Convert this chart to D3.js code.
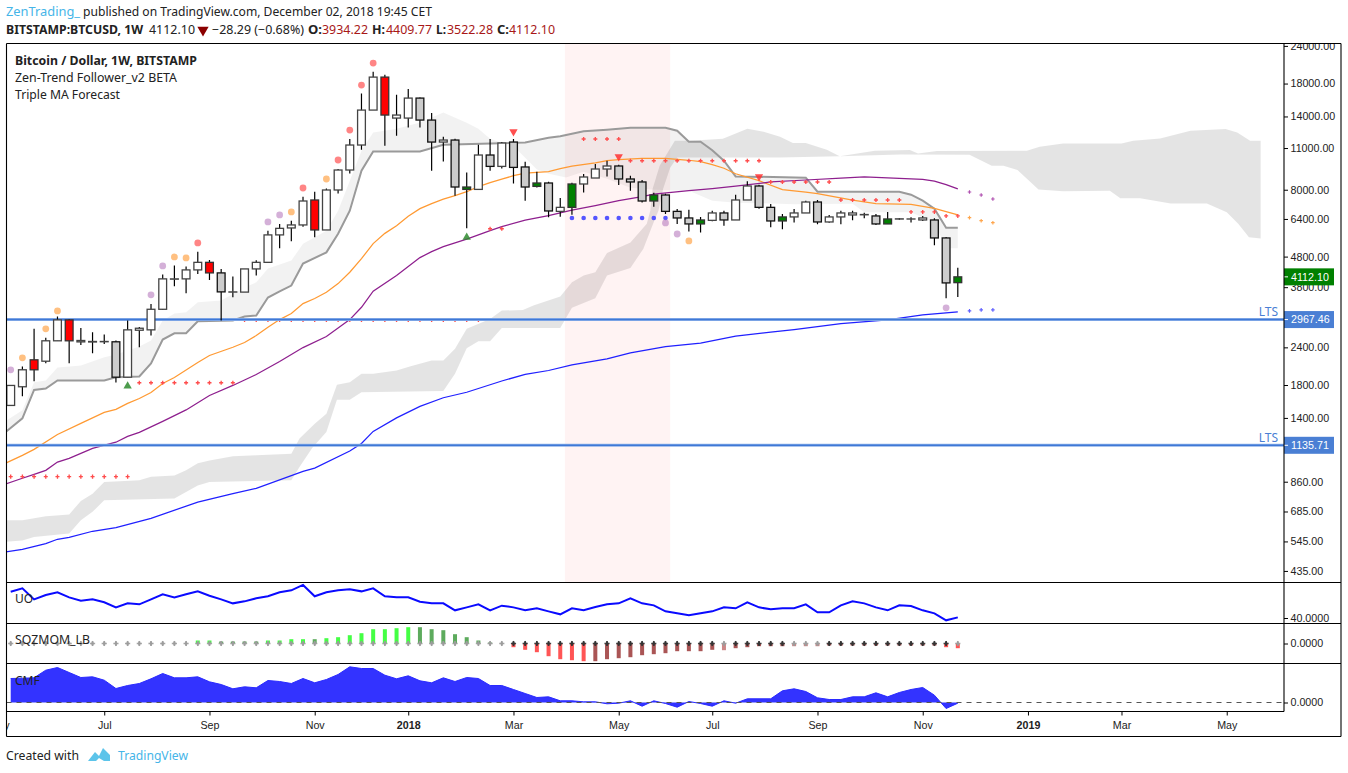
<!DOCTYPE html>
<html><head><meta charset="utf-8">
<script src="https://cdn.jsdelivr.net/npm/d3@7"></script>
<style>html,body{margin:0;padding:0;background:#fff}svg{display:block}
.ax text{font-family:"Liberation Sans",Arial,sans-serif;font-size:10.7px;fill:#222}
.ax line{stroke:#000;stroke-width:1}.ax path{display:none}
.ui{font-family:"Noto Sans",Tahoma,sans-serif;font-size:12px;fill:#222}
</style></head><body><svg id="c" width="1348" height="773"></svg>
<script>
// ---- weekly candles, week 0 = 8 May 2017 ----
const open=[1540,1776,2022,2159,2523,2960,2529,2510,2505,2504,1911,2735,2743,3210,4049,4049,4336,4594,4238,3666,3660,4369,4594,5665,5974,6113,7397,5883,7984,9300,11256,14700,18910,13829,13829,16110,13620,11515,11693,8020,8020,10429,9561,11515,9519,8207,8422,6780,6992,8358,8749,9372,9590,8684,8489,7340,7685,6781,6448,6160,6331,6699,6350,7397,8232,6992,6302,6499,6699,7284,6254,6499,6598,6620,6548,6160,6395,6400,6350,6350,5535,3934.22];
const high=[1794,2074,2764,2581,3036,2983,2784,2695,2647,2529,2945,2806,3345,4184,4481,4447,4986,4680,4369,4120,4369,4666,5852,6160,6316,7586,7880,8082,9372,11783,16683,19688,19246,16522,17257,16186,14366,11992,11810,9127,11281,11783,11515,11783,9907,9179,8506,7510,8441,9021,9737,9984,9685,8905,8617,7821,7762,6907,6870,6499,6818,6818,7702,8528,8313,7176,6648,6907,7357,7397,6598,6818,6818,6714,6648,6752,6448,6478,6548,6430,5579,4409.77];
const low=[1540,1653,1854,2126,2523,2126,2444,2296,2463,1835,1911,2401,2627,3195,3826,3626,4206,4018,2945,3518,3660,4152,4585,5114,5393,6034,5561,5883,7778,9061,10859,14700,11196,12083,12874,12874,9250,9930,7644,5956,8020,9250,9415,8397,7357,8142,6478,6513,6613,7836,8749,8858,8295,7941,7262,7029,6648,6160,5809,5773,6283,6080,6350,7397,6923,6002,5915,6234,6699,6141,6219,6141,6331,6430,6113,6160,6365,6234,6302,5233,3492,3522.28];
const close=[1794,2022,2182,2523,2960,2523,2502,2500,2510,1911,2743,2777,3210,4049,4040,4336,4594,4238,3666,3660,4369,4594,5665,5956,6113,7340,5883,7984,9300,11256,14700,18910,14152,14152,16110,13620,11515,11693,8168,8168,10429,9561,11429,9488,8168,8422,6802,6992,8358,8817,9372,9590,8684,8489,7340,7685,6781,6448,6160,6350,6699,6350,7397,8232,6992,6302,6499,6699,7284,6254,6499,6699,6699,6605,6160,6399,6405,6395,6448,5535,3926,4112.10];
const tone=("wwrwwrwwwg"+"wwwwwwwrgw"+"wwwwwwrwww"+"wwrwwggwgn"+"wgwggngwnw"+"wwgggngggn"+"wgwwggnwwg"+"wwwwgnwwwggn").split("");
const toneFill={w:"#fff",g:"#cccccc",r:"#ff0000",n:"#008000"};
const toneEdge={w:"#444",g:"#111",r:"#333",n:"#333"};

// ---- moving averages (week, price) ----
const orangeWeeks=[-1,1,2,4,6,8,9,10,11,12,13,14,16,17,19,20,21,22,23,24,25,26,27,28,29,30,31,32,33,34,35,36,37,38,39,40,41,42,43,44,46,47,48,50,51,52,54,56,58,59,60,61,62,64,66,68,69,72,74,77,79,81];
const orangePrice=[967,1052,1101,1234,1343,1460,1494,1564,1624,1700,1822,1907,2138,2255,2402,2490,2627,2798,2967,3106,3353,3484,3654,3906,4259,4727,5300,5732,6080,6530,6923,7192,7443,7644,7880,8188,8441,8670,8905,9078,9179,9394,9574,9830,9985,10061,10161,10161,10020,9907,9685,9429,9037,8571,8002,7850,7762,7385,7192,7150,6939,6598];
const purpleWeeks=[-1,1,2,3,4,5,6,7,9,10,11,13,15,17,19,21,23,25,27,29,30,31,33,35,36,37,39,41,42,44,46,48,50,52,54,55,58,60,62,65,68,71,73,76,78,79,80,81];
const purplePrice=[830,883,910,938,999,1028,1068,1109,1163,1216,1253,1363,1488,1662,1794,1951,2155,2396,2607,2967,3260,3684,4152,4763,4987,5180,5485,5852,6034,6340,6562,6844,7083,7357,7586,7733,7941,8064,8220,8489,8617,8749,8817,8727,8657,8540,8313,8047];
const blueWeeks=[-1,1,3,4,5,7,9,12,16,19,21,25,26,29,30,31,33,35,37,39,42,44,46,48,51,53,56,59,62,65,67,71,75,78,81];
const bluePrice=[499,513,536,554,562,589,606,650,736,785,817,931,954,1087,1152,1263,1400,1529,1633,1703,1856,1951,2011,2098,2196,2301,2415,2477,2617,2697,2749,2877,2960,3076,3147];
const forecastWeeks=[82,83,84];
const forecastOrange=[6465,6316,6219];
const forecastPurple=[7862,7685,7454];
const forecastBlue=[3171,3195,3195];

// ---- trend line and the cloud that hangs on it ----
const trendWeeks=[-1,1,2,3,4,8,9,11,12,13,14,15,16,19,20,21,22,23,24,25,27,28,29,30,31,35,37,43,44,46,47,49,51,53,56,57,58,59,60,61,62,68,69,76,77,78,79,80,81];
const trendPrice=[1206,1395,1733,1753,1864,1864,1911,1921,2122,2548,2672,2672,2928,2945,3036,3060,3510,3682,3847,4550,4958,5719,6818,9250,10718,10718,11281,11450,11483,11900,12032,12504,12649,12845,12845,12552,11541,11541,10817,9985,8858,8772,7880,7880,7702,7357,6923,5988,5988];
const lightTopWeeks=[-1,1,2,3,4,6,8,9,10,11,12,13,14,15,16,18,20,21,22,24,25,27,28,29,30,31,33,35,37,39,40,41,42];
const lightTopPrice=[1323,1483,1839,1864,2058,2090,2226,2272,2342,2415,2529,2945,3106,3137,3386,3431,3788,3944,4379,4655,5300,5852,6818,8571,10776,12391,12746,13372,14433,13340,12746,11810,11450];
const lightLowWeeks=[43.4,45,46,47.5,49,51,53,55,58,60,62,67,72,73,77,79,80,81];
const lightLowPrice=[10776,9344,9040,8791,9179,8704,8126,8002,7941,7357,7246,7165,7192,6733,6733,6219,5114,5114];

// ---- long cloud ----
const darkTopWeeks=[-1,1,3,5,6,7,8,11,12,14,15,16,17,19,21,24,24.7,26,27,27.9,29,30,31,33,34.2,36,37,38,39,41,42,43.8,44.7,47,48,49,50,51,53,54.4,54.7,54.9,55.5,56.8,58.1,60.9,63,64.4,65.8,66.9,68,69.8,70.9,73.9,76.9,77.6,79.2,86.9,88,90,95,96,98.3,100.9,103.9,104.9,106,106.9];
const darkTopPrice=[641,641,661,670,742,785,858,869,894,902,938,991,1012,1044,1052,1065,1197,1340,1445,1804,1839,1962,1962,2011,2079,2170,2170,2373,2764,2983,3178,3195,3302,3537,3944,4152,4259,4937,5350,6172,6818,8064,9611,11630,11630,11810,12746,12459,11992,11429,11429,10859,10334,10776,10830,10551,10750,10776,11111,11395,11395,11630,11838,12552,12712,12391,11630,11630];
const darkLowWeeks=[-1,1,2,5,6,7,8,14,16,17,24,24.7,25.8,27,27.9,29,30,37,38,39,40,41,42,47,48,50,51,53,54.1,55.1,55.4,55.8,56.4,57,65.8,70.9,76.1,82,83.9,84.9,86.1,87.9,90,94,94.9,96.6,99.2,102.3,104,105,105.9,106.9];
const darkLowPrice=[541,549,564,579,641,683,746,756,836,858,869,962,1114,1256,1608,1608,1703,1718,1962,2384,2516,2516,2784,2784,3245,3492,4152,4403,5090,6399,6818,8064,9466,10240,10240,10334,10480,10447,9611,9611,9300,8020,7900,7941,7490,7490,7206,7206,6733,6160,5561,5507];

// ---- signal markers on the price pane ----
const dotWeeks=[0,1,3,4,12,13,14,15,16,22,23,24,25,27,28,29,30,31,56,57,58,80];
const dotPrice=[2022,2216,2764,3171,3584,4471,4789,4752,5328,6254,6598,6752,8106,8684,10038,12620,17792,21042,6206,5705,5410,3245];
const dotKind=["p","o","o","o","p","p","o","o","r","p","p","o","r","o","r","r","r","r","p","p","o","p"];
const dotFill={p:"#b070b8",o:"#ff8c1a",r:"#ff2020"};
const upTriWeeks=[10,39], upTriPrice=[1785,5561];
const downTriWeeks=[43,52,64], downTriPrice=[12459,10295,8837];
const plusStart=[0,11,20,41,49,53,65,71,77,80];
const plusEnd=[10,19,40,42,52,64,70,76,79,81];
const plusPrice=[894,1831,2960,5940,11783,9985,8489,7397,6752,6548];
const squeezeDotStart=48, squeezeDotEnd=56, squeezeDotPrice=6448;
const bandStart=47.4, bandEnd=56.4;
const ltsLevels=[2967.46,1135.71];
const lastPrice=4112.10;

// ---- lower panes, one value per week ----
const uo=[72.9,77.1,63.3,68.8,72.1,65.8,61.7,63.3,59.6,53.3,58.3,57.1,63.3,69.6,65.8,69.6,73.3,67.9,63.3,58.3,60.8,64.6,67.1,72.1,74.6,81.3,67.1,72.1,74.6,75.8,73.3,77.1,67.1,65.8,65.8,60.4,58.3,58.3,49.6,53.3,57.1,49.6,55.4,53.3,49.6,52.1,48.3,44.6,52.1,49.6,53.8,57.1,58.3,64.6,58.3,55.8,48.3,45.8,43.3,45.8,48.3,53.3,52.1,59.6,53.3,50.8,52.1,52.1,57.1,47.1,47.1,55.8,60.8,58.3,53.3,49.6,55.8,55,49.6,45.8,37.1,40.8];
const sqz=[0,0,0,0,0,0,0,0,0,0,0,0,0,0,0,0,300,300,200,200,200,200,300,300,430,430,430,530,630,830,1030,1430,1430,1530,1630,1630,1430,1330,930,630,300,100,0,-370,-630,-870,-1270,-1570,-1670,-1770,-1770,-1570,-1470,-1370,-1170,-1070,-970,-770,-770,-770,-630,-670,-470,-370,-270,-270,-270,-270,-270,-270,-200,-200,-200,-200,-200,-200,-200,-200,-200,-200,-370,-470];
const sqzTone=("aaaaaaaaaaaaaaaa"+"bb"+"cccc"+"bbbb"+"c"+"bbbbbbbb"+"cccccccc"+"ddddddd"+"eeeeeeeeeee"+"f"+"eeeee"+"fff"+"eeeeeeeeee"+"dd").split("");
const sqzColor={a:"#999",b:"#44ff44",c:"#5dab5d",d:"#ff5555",e:"#aa5555",f:"#cc8888"};
const sqzCrossDark=("0".repeat(43)+"1".repeat(18)+"0"+"11111"+"000"+"1".repeat(11)+"0").split("");
const cmf=[.24,.243,.247,.323,.35,.30,.25,.257,.223,.14,.17,.19,.237,.29,.247,.247,.257,.207,.18,.137,.157,.147,.22,.21,.19,.24,.197,.23,.28,.357,.34,.34,.273,.237,.267,.217,.197,.247,.21,.25,.24,.17,.17,.13,.09,.05,.057,.017,.017,.007,.007,-.013,-.007,.017,-.037,.017,-.01,-.047,.01,-.01,-.037,.017,-.007,.037,.037,.037,.117,.137,.11,.047,.03,.03,.057,.057,.097,.057,.1,.13,.15,.073,-.06,-.007];

// ---- axis ticks ----
const priceTicks=[24000,18000,14000,11000,8000,6400,4800,3800,2400,1800,1400,860,685,545,435];
const timeTickWeeks=[-1,8,17,26,34,43,52,60,69,78,87,95,104];
const timeTickLabels=["May","Jul","Sep","Nov","2018","Mar","May","Jul","Sep","Nov","2019","Mar","May"];

// ---- layout ----
const L=6.5,R=1284,FR=1341,T=43.5,P1=582.5,P2=623.5,P3=663.5,P4=711.5,B=736.5;
const svg=d3.select("#c");
const x=d3.scaleLinear().domain([0,81]).range([10.7,957.8]);
const y=d3.scaleLog().domain([1135.71,24000]).range([445.3,45.9]);
const yUO=d3.scaleLinear().domain([33.75,85]).range([623,582]);
const ySQZ=d3.scaleLinear().domain([-1950,2050]).range([663,623]);
const yCMF=d3.scaleLinear().domain([-.085,.395]).range([711,663]);
const defs=svg.append("defs");
defs.append("clipPath").attr("id","main").append("rect").attr("x",L).attr("y",T).attr("width",R-L).attr("height",P1-T);
defs.append("clipPath").attr("id","low").append("rect").attr("x",L).attr("y",P1).attr("width",R-L).attr("height",P4-P1);
defs.append("clipPath").attr("id","tx").append("rect").attr("x",L).attr("y",P4).attr("width",R-L).attr("height",B-P4);
defs.append("clipPath").attr("id","py").append("rect").attr("x",0).attr("y",T).attr("width",FR-R).attr("height",P1-T);

const main=svg.append("g").attr("clip-path","url(#main)");
const pts=(w,p)=>w.map((d,i)=>[d,p[i]]);
const line=d3.line().x(d=>x(d[0])).y(d=>y(d[1]));

// clouds
const trendPts=pts(trendWeeks,trendPrice);
const lightTop=pts(lightTopWeeks,lightTopPrice).concat(trendPts.filter(d=>d[0]>=43));
const lightLow=trendPts.filter(d=>d[0]<=43).concat(pts(lightLowWeeks,lightLowPrice));
main.append("path").attr("d",line(lightTop.concat(lightLow.slice().reverse()))+"Z").attr("fill","#000").attr("fill-opacity",.05);
main.append("path").attr("d",line(pts(darkTopWeeks,darkTopPrice).concat(pts(darkLowWeeks,darkLowPrice).reverse()))+"Z").attr("fill","#000").attr("fill-opacity",.105);
// band
main.append("rect").attr("x",x(bandStart)).attr("width",x(bandEnd)-x(bandStart)).attr("y",T).attr("height",P1-T).attr("fill","#ff3030").attr("fill-opacity",.06);
// lines
main.append("path").attr("d",line(trendPts)).attr("fill","none").attr("stroke","#9a9a9a").attr("stroke-width",2);
[[orangeWeeks,orangePrice,"#ff9a33"],[purpleWeeks,purplePrice,"#8e1f8e"],[blueWeeks,bluePrice,"#2020ff"]].forEach(s=>{
 main.append("path").attr("d",line(pts(s[0],s[1]))).attr("fill","none").attr("stroke",s[2]).attr("stroke-width",1.25);
});
// plus rows
const plusRows=plusStart.flatMap((s,r)=>d3.range(s,plusEnd[r]+1).map(w=>[w,plusPrice[r]]));
main.selectAll(".pl").data(plusRows).join("path").attr("d",d3.symbol(d3.symbolCross,9)).attr("fill","#ff4d4d")
 .attr("transform",d=>`translate(${x(d[0])},${y(d[1])})`);
// lts
main.selectAll(".ltsh").data(ltsLevels).join("line").attr("x1",L).attr("x2",R).attr("y1",d=>y(d)).attr("y2",d=>y(d)).attr("stroke","#8fb2ea").attr("stroke-width",3);
main.selectAll(".lts").data(ltsLevels).join("line").attr("x1",L).attr("x2",R).attr("y1",d=>y(d)).attr("y2",d=>y(d)).attr("stroke","#3f78d6").attr("stroke-width",1.4);
main.selectAll(".ltst").data(ltsLevels).join("text").attr("x",R-6).attr("y",d=>y(d)-3.5).attr("text-anchor","end").style("font","12px 'Noto Sans',sans-serif").attr("fill","#4a7fd4").text("LTS");
// forecast
[[forecastOrange,"#ffa64d"],[forecastPurple,"#b050b0"],[forecastBlue,"#6060ff"]].forEach(s=>{
 main.selectAll(null).data(pts(forecastWeeks,s[0])).join("path").attr("d",d3.symbol(d3.symbolCross,7)).attr("fill",s[1])
 .attr("transform",d=>`translate(${x(d[0])},${y(d[1])})`);
});
// squeeze dots
main.selectAll(".sd").data(d3.range(squeezeDotStart,squeezeDotEnd+1)).join("circle").attr("cx",d=>x(d)).attr("cy",y(squeezeDotPrice)).attr("r",2.3).attr("fill","#5555ff");
// candles
const idx=d3.range(open.length);
main.selectAll(".wk").data(idx).join("line").attr("x1",i=>x(i)).attr("x2",i=>x(i)).attr("y1",i=>y(high[i])).attr("y2",i=>y(low[i])).attr("stroke","#000").attr("stroke-width",1.2);
main.selectAll(".bd").data(idx).join("rect").attr("x",i=>x(i)-3.9).attr("width",7.8)
 .attr("y",i=>y(Math.max(open[i],close[i]))).attr("height",i=>Math.abs(y(open[i])-y(close[i])))
 .attr("fill",i=>toneFill[tone[i]]).attr("stroke",i=>toneEdge[tone[i]]).attr("stroke-width",1.3);
// dots
main.selectAll(".dt").data(dotWeeks.map((w,i)=>i)).join("circle").attr("cx",i=>x(dotWeeks[i])).attr("cy",i=>y(dotPrice[i])).attr("r",3.4)
 .attr("fill",i=>dotFill[dotKind[i]]).attr("fill-opacity",.55);
// triangles
main.selectAll(".tu").data(pts(upTriWeeks,upTriPrice)).join("path").attr("d",d3.symbol(d3.symbolTriangle,30)).attr("fill","#2e8b2e").attr("fill-opacity",.85)
 .attr("transform",d=>`translate(${x(d[0])},${y(d[1])})`);
main.selectAll(".td").data(pts(downTriWeeks,downTriPrice)).join("path").attr("d",d3.symbol(d3.symbolTriangle,30)).attr("fill","#ff3030").attr("fill-opacity",.85)
 .attr("transform",d=>`translate(${x(d[0])},${y(d[1])}) rotate(180)`);

// lower panes
const lower=svg.append("g").attr("clip-path","url(#low)");
lower.append("path").attr("d",d3.line().x((d,i)=>x(i)).y(d=>yUO(d))(uo)).attr("fill","none").attr("stroke","#0a0aff").attr("stroke-width",2);
const barIdx=idx.filter(i=>sqz[i]!==0);
lower.selectAll(".sq").data(barIdx).join("rect").attr("x",i=>x(i)-2).attr("width",4)
 .attr("y",i=>Math.min(ySQZ(sqz[i]),ySQZ(0))).attr("height",i=>Math.abs(ySQZ(sqz[i])-ySQZ(0)))
 .attr("fill",i=>sqzColor[sqzTone[i]]);
[[d3.symbolCross,15],[d3.symbolDiamond,9]].forEach(s=>{
 lower.selectAll(null).data(idx).join("path").attr("d",d3.symbol(s[0],s[1]))
 .attr("fill",i=>sqzCrossDark[i]==="1"?"#333":"#9c9c9c").attr("fill-opacity",.9)
 .attr("transform",i=>`translate(${x(i)},${ySQZ(0)})`);
});
lower.append("path").attr("d",d3.area().x((d,i)=>x(i)).y0(yCMF(0)).y1(d=>yCMF(d))(cmf)).attr("fill","#3333ff");
lower.append("path").attr("d",d3.line().x((d,i)=>x(i)).y(d=>yCMF(d))(cmf)).attr("fill","none").attr("stroke","#2a2aff").attr("stroke-width",1);
lower.append("line").attr("x1",L).attr("x2",R).attr("y1",yCMF(0)).attr("y2",yCMF(0)).attr("stroke","#555").attr("stroke-dasharray","5 5");

// axes
const ay=svg.append("g").attr("transform",`translate(${R},0)`).attr("clip-path","url(#py)").append("g").attr("class","ax")
 .call(d3.axisRight(y).tickValues(priceTicks).tickSize(4).tickPadding(2.5).tickFormat(d=>d.toFixed(2)));
svg.append("g").attr("class","ax").attr("transform",`translate(${R},0)`).call(d3.axisRight(yUO).tickValues([40]).tickSize(4).tickPadding(2.5).tickFormat(d=>d.toFixed(4)));
svg.append("g").attr("class","ax").attr("transform",`translate(${R},0)`).call(d3.axisRight(ySQZ).tickValues([0]).tickSize(4).tickPadding(2.5).tickFormat(d=>d.toFixed(4)));
svg.append("g").attr("class","ax").attr("transform",`translate(${R},0)`).call(d3.axisRight(yCMF).tickValues([0]).tickSize(4).tickPadding(2.5).tickFormat(d=>d.toFixed(4)));
const ax=svg.append("g").attr("clip-path","url(#tx)").append("g").attr("class","ax").attr("transform",`translate(0,${P4})`)
 .call(d3.axisBottom(x).tickValues(timeTickWeeks).tickSize(4).tickPadding(6).tickFormat((d,i)=>timeTickLabels[i]));
ax.selectAll("text").filter(function(){return /^(2018|2019)$/.test(this.textContent)}).style("font-weight","bold");

// price tags
const tags=[[lastPrice,"#008000"],[ltsLevels[0],"#4a7fd4"],[ltsLevels[1],"#4a7fd4"]];
const tg=svg.selectAll(".tag").data(tags).join("g").attr("transform",d=>`translate(${R},${y(d[0])})`);
tg.append("rect").attr("x",0).attr("y",-8.5).attr("width",50).attr("height",17).attr("fill",d=>d[1]);
tg.append("line").attr("x1",0).attr("x2",4).attr("stroke","#fff");
tg.append("text").attr("x",7).attr("y",3.9).attr("fill","#fff").style("font","10.7px 'Liberation Sans',Arial,sans-serif").text(d=>d[0].toFixed(2));

// frames
const fr=svg.append("g").attr("stroke","#000").attr("stroke-width",1.1);
[[L,T,FR,T],[L,T,L,B],[FR,T,FR,B],[L,B,FR,B],[L,P1,FR,P1],[L,P2,FR,P2],[L,P3,FR,P3],[L,P4,R,P4],[R,T,R,P4]].forEach(s=>{
 fr.append("line").attr("x1",s[0]).attr("y1",s[1]).attr("x2",s[2]).attr("y2",s[3]);
});

// texts
function t(px,py,s,o){o=o||{};const e=svg.append("text").attr("class","ui").attr("x",px).attr("y",py).text(s);
 if(o.c)e.style("fill",o.c);if(o.b)e.style("font-weight","bold");if(o.len)e.attr("textLength",o.len).attr("lengthAdjust","spacingAndGlyphs");if(o.fs)e.style("font-size",o.fs+"px");return e;}
t(6,16,"ZenTrading_",{c:"#45b5e8",len:74,fs:13});
t(83,16,"published on TradingView.com, December 02, 2018 19:45 CET",{len:349});
t(6,34,"BITSTAMP:BTCUSD, 1W",{b:1,len:137});
t(149,34,"4112.10",{len:46});
svg.append("path").attr("d",d3.symbol(d3.symbolTriangle,55)).attr("fill","#8b0000").attr("transform","translate(203,30) rotate(180)");
t(212,34,"−28.29 (−0.68%)",{len:92});
t(308,34,"O:",{b:1,len:14});t(322,34,"3934.22",{c:"#a81818",len:46});
t(372,34,"H:",{b:1,len:13});t(386,34,"4409.77",{c:"#a81818",len:46});
t(436,34,"L:",{b:1,len:10});t(447,34,"3522.28",{c:"#a81818",len:46});
t(497,34,"C:",{b:1,len:12});t(509,34,"4112.10",{c:"#a81818",len:46});
t(15,65,"Bitcoin / Dollar, 1W, BITSTAMP",{b:1,len:182});
t(15,82,"Zen-Trend Follower_v2 BETA",{len:162});
t(15,99,"Triple MA Forecast",{len:105});
t(15,603,"UO");t(15,644,"SQZMOM_LB",{len:75});t(15,685,"CMF");
t(6,760,"Created with",{len:73});
t(118,760,"TradingView",{c:"#45b5e8",len:70});
svg.append("path").attr("d","M88 761 L95 752 L99 756 L103 748 L110 755 L110 761 L104 761 L99 758 L96 761 Z").attr("fill","#5cc4ea");
</script></body></html>
